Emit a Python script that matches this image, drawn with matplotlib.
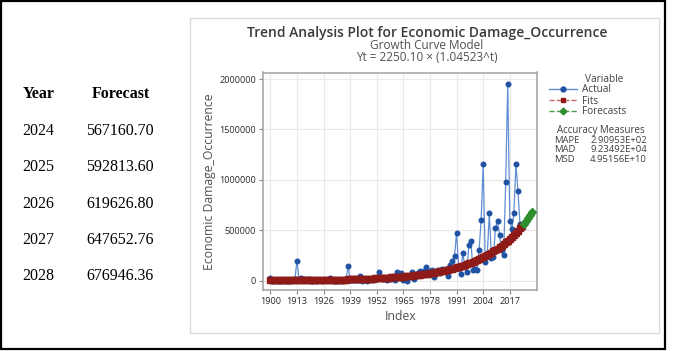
import numpy as np
import matplotlib.pyplot as plt
from matplotlib.patches import Rectangle
from matplotlib.lines import Line2D

plt.rcParams["font.family"] = ["Open Sans", "DejaVu Sans"]

# observed series, one value per year (index t = 1 .. 124)
years = np.arange(1900, 2024)
actual = [
    25000, 1000, 0, 2000, 0, 1000, 3000, 0, 1000, 2000,
    0, 3000, 20000, 198000, 8000, 25000, 10000, 20000, 5000, 15000,
    2000, 0, 3000, 1000, 4000, 2000, 12000, 3000, 5000, 28000,
    6000, 2000, 0, 0, 3000, 0, 5000, 8000, 150000, 6000,
    4000, 3000, 10000, 12000, 50000, 0, 6000, 0, 12000, 18000,
    10000, 15000, 20000, 85000, 33000, 15000, 25000, 10000, 32000, 15000,
    25000, 12000, 83000, 35000, 73000, 8000, 30000, 0, 45000, 89000,
    15000, 50000, 73000, 96000, 60000, 100000, 139000, 79000, 95000, 110000,
    40000, 100000, 110000, 79000, 120000, 105000, 120000, 46000, 155000, 195000,
    250000, 476000, 130000, 63000, 274000, 150000, 85000, 357000, 390000, 110000,
    115000, 105000, 305000, 600000, 1155000, 190000, 250000, 675000, 230000, 240000,
    520000, 590000, 455000, 300000, 255000, 975000, 1955000, 595000, 510000, 670000,
    1155000, 885000, 560000, 520000,
]
# growth curve fitted values (Yt = 2250.10 * 1.04523^t)
fits = [
    2352, 2458, 2569, 2686, 2807, 2934, 3067, 3206, 3350,
    3502, 3660, 3826, 3999, 4180, 4369, 4567, 4773, 4989, 5215,
    5451, 5697, 5955, 6224, 6506, 6800, 7107, 7429, 7765, 8116,
    8483, 8867, 9268, 9687, 10125, 10583, 11062, 11562, 12085, 12632,
    13203, 13800, 14425, 15077, 15759, 16472, 17217, 17995, 18809, 19660,
    20549, 21479, 22450, 23466, 24527, 25636, 26796, 28008, 29275, 30599,
    31983, 33429, 34941, 36522, 38173, 39900, 41705, 43591, 45563, 47623,
    49777, 52029, 54382, 56842, 59413, 62100, 64909, 67845, 70913, 74121,
    77473, 80977, 84640, 88468, 92470, 96652, 101024, 105593, 110369, 115361,
    120579, 126032, 131733, 137691, 143919, 150428, 157232, 164344, 171777, 179547,
    187668, 196156, 205028, 214301, 223994, 234125, 244715, 255783, 267352, 279445,
    292084, 305295, 319103, 333536, 348622, 364390, 380872, 398099, 416105, 434925,
    454597, 475158, 496650, 519112, 542593,
]
fc_years = [2024, 2025, 2026, 2027, 2028]
forecast = [567160.70, 592813.60, 619626.80, 647652.76, 676946.36]

xticks = [1900, 1913, 1926, 1939, 1952, 1965, 1978, 1991, 2004, 2017]
yticks = [0, 500000, 1000000, 1500000, 2000000]
measures = ["MAPE", "MAD", "MSD"]
measure_vals = ["2.90953E+02", "9.23492E+04", "4.95156E+10"]

W, H = 685, 351
fig = plt.figure(figsize=(W / 100, H / 100), dpi=100)


def fx(x):
    return x / W


def fy(y):
    return 1 - y / H


# frames
fig.add_artist(Rectangle((fx(1), fy(349)), fx(665) - fx(1), 348 / H, fill=False,
                         ec="black", lw=1.6, transform=fig.transFigure))
fig.add_artist(Rectangle((fx(190), fy(333)), (659 - 190) / W, (333 - 18) / H, fill=False,
                         ec="#dcdcdc", lw=1.0, transform=fig.transFigure))

# left table
serif = "Liberation Serif"
fig.text(fx(22.5), fy(94.5), "Year", family=serif, weight="bold", fontsize=11.5, va="center")
fig.text(fx(91.5), fy(94.5), "Forecast", family=serif, weight="bold", fontsize=11.5, va="center")
for i, (yr, val) in enumerate(zip(fc_years, forecast)):
    yy = 131 + i * 36.3
    fig.text(fx(22.5), fy(yy), str(yr), family=serif, fontsize=11.5, va="center")
    fig.text(fx(86), fy(yy), f"{val:.2f}", family=serif, fontsize=11.5, va="center")

# chart
ax = fig.add_axes([fx(263), fy(290), (537 - 263) / W, (290 - 72.5) / H])
ax.plot(years, actual, color="#5f8fd2", lw=0.9, marker="o", ms=3.3,
        mfc="#1f52a3", mec="#1f52a3", zorder=3)
ax.plot(years, fits, color="#c46a6a", lw=0.8, ls="--", marker="s", ms=4.1,
        mfc="#8e1b17", mec="#8e1b17", zorder=4)
ax.plot(fc_years, forecast, color="#4aa04a", lw=0.8, ls="--", marker="D", ms=3.6,
        mfc="#2f8f2f", mec="#2f8f2f", zorder=4)

ax.set_xlim(1896.4, 2030.3)
ax.set_ylim(-92000, 2064500)
ax.set_xticks(xticks)
ax.set_yticks(yticks)
ax.set_yticklabels([str(v) for v in yticks])
ax.grid(color="#e8e8e8", lw=0.8)
ax.set_axisbelow(True)
for s in ax.spines.values():
    s.set_color("#a8a8a8")
    s.set_linewidth(1.2)
ax.tick_params(length=3, width=0.8, color="#888888", labelsize=6.6,
               labelcolor="#2a2a2a", pad=2)

# titles
fig.text(fx(427), fy(33), "Trend Analysis Plot for Economic Damage_Occurrence",
         ha="center", va="center", fontsize=10, weight="semibold", color="#3a3a3a")
fig.text(fx(427), fy(45.5), "Growth Curve Model", ha="center", va="center",
         fontsize=8.5, color="#505050")
fig.text(fx(427), fy(57.5), "Yt = 2250.10 × (1.04523^t)", ha="center", va="center",
         fontsize=8.5, color="#505050")
fig.text(fx(210), fy(182), "Economic Damage_Occurrence", rotation=90, ha="center",
         va="center", fontsize=8.8, color="#505050")
fig.text(fx(401), fy(317), "Index", ha="center", va="center", fontsize=8.8, color="#505050")

# legend
handles = [
    Line2D([], [], color="#5f8fd2", lw=1, marker="o", ms=3.5, mfc="#1f52a3", mec="#1f52a3"),
    Line2D([], [], color="#c46a6a", lw=1, ls="--", marker="s", ms=3.5, mfc="#8e1b17", mec="#8e1b17"),
    Line2D([], [], color="#4aa04a", lw=1, ls="--", marker="D", ms=3.5, mfc="#2f8f2f", mec="#2f8f2f"),
]
fig.text(fx(585), fy(80), "Variable", va="center", fontsize=7.2, color="#404040")
fig.legend(handles, ["Actual", "Fits", "Forecasts"], loc="upper left",
           bbox_to_anchor=(fx(549), fy(84.5)), frameon=False, fontsize=7.2,
           handlelength=2.8, handletextpad=0.5, labelspacing=0.0,
           borderpad=0, borderaxespad=0, labelcolor="#404040")

fig.text(fx(601), fy(130), "Accuracy Measures", ha="center", va="center",
         fontsize=7, color="#404040")
for i, (m, v) in enumerate(zip(measures, measure_vals)):
    fig.text(fx(554), fy(140 + i * 10), m, va="center", fontsize=6.8, color="#404040")
    fig.text(fx(647), fy(140 + i * 10), v, va="center", ha="right", fontsize=6.8, color="#404040")

fig.savefig("out.png", dpi=100)
